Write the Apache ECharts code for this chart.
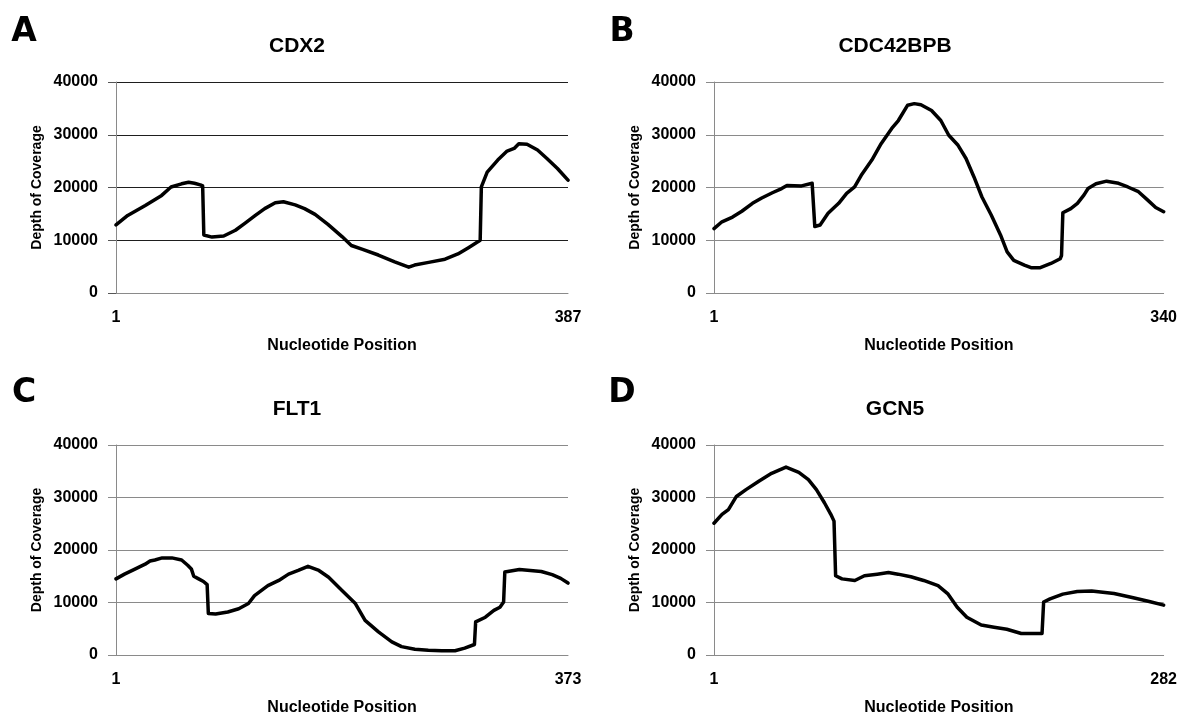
<!DOCTYPE html>
<html><head><meta charset="utf-8">
<script src="https://cdn.jsdelivr.net/npm/echarts@6/dist/echarts.min.js"></script>
<style>html,body{margin:0;padding:0;background:#fff}#c{width:1180px;height:717px}</style>
</head><body><div id="c"></div>
<script>
// ---- data ----
const geneNames = ['CDX2', 'CDC42BPB', 'FLT1', 'GCN5'];
const panelLetters = ['A', 'B', 'C', 'D'];
const seqLengths = [387, 340, 373, 282];
const yTickValues = [0, 10000, 20000, 30000, 40000];
const xTitle = 'Nucleotide Position';
const yTitle = 'Depth of Coverage';

const posA = [1,11,26,40,48,57,63,68,73,75,76,83,93,103,111,120,128,137,144,154,162,171,182,194,202,211,225,239,251,256,268,282,293,302,310,312,313,318,327,335,341,345,352,361,369,378,387];
const valA = [12900,14700,16600,18500,20100,20700,21000,20800,20500,20300,11000,10600,10800,11900,13200,14700,16000,17100,17300,16700,16000,14900,13000,10700,9000,8300,7200,5900,4900,5300,5800,6400,7400,8600,9700,10000,20100,22900,25200,26900,27400,28300,28200,27100,25500,23600,21400];

const posB = [1,7,15,22,30,37,45,52,56,67,75,76,77,81,87,95,101,107,112,120,127,135,140,147,152,157,165,172,178,185,191,197,203,210,217,222,227,235,240,247,255,262,263,264,270,275,280,283,289,297,306,313,321,328,334,340];
const valB = [12200,13500,14400,15500,17000,18000,19000,19800,20400,20300,20800,20700,12600,12900,15100,17000,18900,20100,22300,25200,28300,31200,32700,35600,35900,35700,34600,32700,29900,28000,25500,22000,18200,14800,11000,7800,6200,5300,4800,4800,5600,6500,7100,15200,16000,17000,18600,19800,20700,21200,20800,20100,19200,17600,16200,15400];

const posC = [1,8,17,25,29,33,39,47,55,60,63,65,69,73,76,77,83,93,102,110,115,126,135,143,151,159,168,176,187,198,206,217,228,236,247,258,269,280,288,296,297,305,312,317,320,321,333,351,360,367,373];
const valC = [14500,15400,16400,17300,17900,18100,18500,18500,18100,17100,16400,15000,14500,14000,13400,7900,7800,8200,8800,9800,11300,13200,14200,15400,16100,16900,16100,14800,12300,9800,6600,4400,2500,1600,1100,900,800,800,1300,2000,6300,7200,8500,9100,10100,15800,16300,15900,15300,14600,13700];

const posD = [1,6,10,15,21,29,37,46,54,60,65,70,74,76,77,81,89,95,103,110,116,124,132,141,147,153,159,168,176,184,193,206,207,211,219,228,237,251,263,273,282];
const valD = [25100,26800,27700,30200,31500,33100,34600,35800,34800,33400,31500,29000,26800,25500,15100,14500,14200,15100,15400,15700,15400,14900,14200,13200,11700,9100,7200,5700,5300,4900,4100,4100,10100,10700,11600,12100,12200,11700,10900,10200,9500];

const positions = [posA, posB, posC, posD];
const values = [valA, valB, valC, valD];

// ---- layout / style ----
const FONT = '"Liberation Sans", Arial, sans-serif';
const LETTER_FONT = '"DejaVu Sans", "Liberation Sans", sans-serif';
const gridBoxes = [
  {left: 116, top: 82, width: 452, height: 211},
  {left: 714, top: 82, width: 452, height: 211},
  {left: 116, top: 445, width: 452, height: 212},
  {left: 714, top: 445, width: 452, height: 212}
];
const letterPos = [[24, 32], [622, 32], [24, 393], [622, 393]];
const titlePos = [[297, 46], [895, 46], [297, 409], [895, 409]];

const grid = [], xAxis = [], yAxis = [], series = [], title = [];
for (let i = 0; i < 4; i++) {
  grid.push(Object.assign({containLabel: false}, gridBoxes[i]));
  const N = seqLengths[i];
  xAxis.push({
    type: 'value', gridIndex: i, min: 1, max: N,
    axisLine: {show: true, onZero: false, lineStyle: {color: '#8a8a8a', width: 1}},
    axisTick: {show: false},
    splitLine: {show: false},
    axisLabel: {
      customValues: [1, N],
      formatter: function (v) { return (v === 1 || v === N) ? String(v) : ''; },
      showMinLabel: true, showMaxLabel: true,
      margin: 17, color: '#000', fontWeight: 'bold', fontSize: 16, fontFamily: FONT
    },
    name: xTitle, nameLocation: 'middle', nameGap: 45,
    nameTextStyle: {color: '#000', fontWeight: 'bold', fontSize: 16, fontFamily: FONT}
  });
  yAxis.push({
    type: 'value', gridIndex: i, min: yTickValues[0], max: yTickValues[yTickValues.length - 1],
    interval: yTickValues[1] - yTickValues[0],
    axisLine: {show: true, lineStyle: {color: '#8a8a8a', width: 1}},
    axisTick: {show: true, length: 8, lineStyle: {color: i === 0 ? '#555' : '#8a8a8a'}},
    axisLabel: {
      formatter: function (v) { return String(v); },
      margin: 18, color: '#000', fontWeight: 'bold', fontSize: 16, fontFamily: FONT
    },
    splitLine: {show: true, lineStyle: {width: 1, color: i === 0 ? ['#8a8a8a', '#1e1e1e', '#1e1e1e', '#1e1e1e', '#1e1e1e'] : '#8a8a8a'}},
    name: yTitle, nameLocation: 'middle', nameGap: 72,
    nameTextStyle: {color: '#000', fontWeight: 'bold', fontSize: 14, fontFamily: FONT}
  });
  series.push({
    type: 'line', xAxisIndex: i, yAxisIndex: i,
    data: positions[i].map((p, k) => [p, values[i][k]]),
    showSymbol: false, symbol: 'none', smooth: false,
    lineStyle: {color: '#000', width: 3.5, join: 'round', cap: 'round'},
    z: 5
  });
  title.push({
    text: panelLetters[i], left: letterPos[i][0], top: letterPos[i][1], padding: 0,
    textAlign: 'center', textVerticalAlign: 'middle',
    textStyle: {color: '#000', fontWeight: 'bold', fontSize: 33, fontFamily: LETTER_FONT}
  });
  title.push({
    text: geneNames[i], left: titlePos[i][0], top: titlePos[i][1], padding: 0,
    textAlign: 'center', textVerticalAlign: 'middle',
    textStyle: {color: '#000', fontWeight: 'bold', fontSize: 21, fontFamily: FONT}
  });
}

const chart = echarts.init(document.getElementById('c'), null, {renderer: 'canvas'});
chart.setOption({
  backgroundColor: '#fff',
  animation: false,
  title: title, grid: grid, xAxis: xAxis, yAxis: yAxis, series: series
});
</script></body></html>
